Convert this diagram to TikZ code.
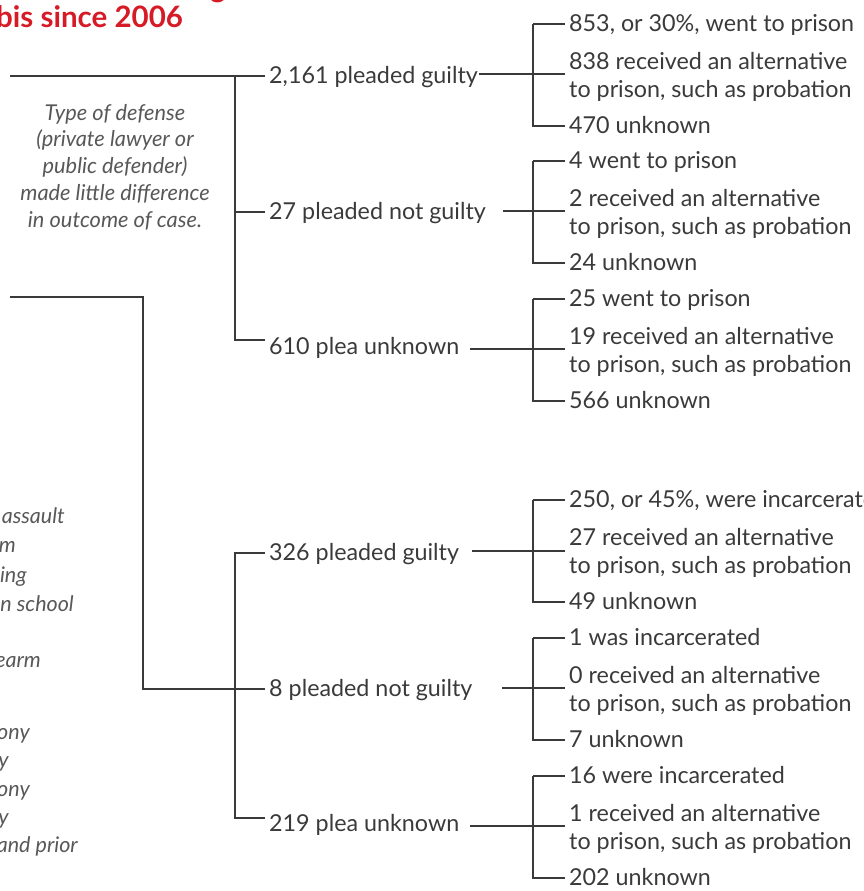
\documentclass[tikz,border=0pt]{standalone}
\usepackage{fontspec}
\setmainfont{Lato}
\definecolor{chtred}{RGB}{214,26,38}
\definecolor{chtink}{RGB}{58,58,58}
\definecolor{chtgray}{RGB}{88,88,88}
\usetikzlibrary{positioning,calc}

\begin{document}
\begin{tikzpicture}[x=1pt, y=-1pt,
  lbl/.style={
    anchor=west, inner xsep=4pt, inner ysep=0pt,
    text height=17pt, text depth=2pt,
    font=\fontsize{23.3}{27}\selectfont,
    text=chtink
  },
  note/.style={font=\fontsize{21.8}{26.8}\selectfont\itshape, text=chtgray, align=center, inner sep=0pt},
  frag/.style={anchor=east, inner sep=0pt, text height=15pt, text depth=2pt,
    font=\fontsize{21.5}{24}\selectfont\itshape, text=chtgray},
  wire/.style={draw=chtink, line width=1.3pt}
]
\useasboundingbox (0,0) rectangle (863,891);
\clip (0,0) rectangle (863,891);

% title, cut by the frame
\node[anchor=base west, inner sep=0pt, font=\fontsize{29.5}{33}\selectfont\bfseries, text=chtred] (ttl) at (-4,28) {bis since 2006};
\node[anchor=base west, inner sep=0pt, font=\fontsize{29.5}{33}\selectfont\bfseries, text=chtred] (ttlg) at (210,-2) {g};

% pleas
\node[lbl] (pg1) at (265,76)  {2,161 pleaded guilty};
\node[lbl] (pn1) at (265,212) {27 pleaded not guilty};
\node[lbl] (pu1) at (265,347) {610 plea unknown};
\node[lbl] (pg2) at (265,553) {326 pleaded guilty};
\node[lbl] (pn2) at (265,689) {8 pleaded not guilty};
\node[lbl] (pu2) at (265,824) {219 plea unknown};

% outcomes
\node[lbl] (o11) at (565,24)  {853, or 30\%, went to prison};
\node[lbl] (o12) at (565,62)  {838 received an alternative};
\node[lbl] (o12b) at (565,90) {to prison, such as probation};
\node[lbl] (o13) at (565,126) {470 unknown};

\node[lbl] (o21) at (565,161) {4 went to prison};
\node[lbl] (o22) at (565,199) {2 received an alternative};
\node[lbl] (o22b) at (565,227) {to prison, such as probation};
\node[lbl] (o23) at (565,263) {24 unknown};

\node[lbl] (o31) at (565,299) {25 went to prison};
\node[lbl] (o32) at (565,337) {19 received an alternative};
\node[lbl] (o32b) at (565,365) {to prison, such as probation};
\node[lbl] (o33) at (565,401) {566 unknown};

\node[lbl] (o41) at (565,500) {250, or 45\%, were incarcerated};
\node[lbl] (o42) at (565,538) {27 received an alternative};
\node[lbl] (o42b) at (565,566) {to prison, such as probation};
\node[lbl] (o43) at (565,602) {49 unknown};

\node[lbl] (o51) at (565,638) {1 was incarcerated};
\node[lbl] (o52) at (565,676) {0 received an alternative};
\node[lbl] (o52b) at (565,704) {to prison, such as probation};
\node[lbl] (o53) at (565,740) {7 unknown};

\node[lbl] (o61) at (565,776) {16 were incarcerated};
\node[lbl] (o62) at (565,814) {1 received an alternative};
\node[lbl] (o62b) at (565,842) {to prison, such as probation};
\node[lbl] (o63) at (565,878) {202 unknown};

% notes on the left
\node[note] (defnote) at (115,167)
  {Type of defense\\(private lawyer or\\public defender)\\made little difference\\in outcome of case.};
\node[frag] (f1) at (65,517)  {assault};
\node[frag] (f2) at (16,546)  {m};
\node[frag] (f3) at (27,576)  {ing};
\node[frag] (f4) at (74,605)  {n school};
\node[frag] (f5) at (41,661)  {earm};
\node[frag] (f6) at (30,733)  {ony};
\node[frag] (f7) at (9,761)   {y};
\node[frag] (f8) at (30,790)  {ony};
\node[frag] (f9) at (9,818)   {y};
\node[frag] (f10) at (78,846) {and prior};

% feeds and brackets, left
\coordinate (in1) at (10,76);
\coordinate (in2) at (10,297);
\coordinate (drop) at (143,689);
\coordinate (k1m) at (235,212);
\coordinate (k1b) at (235,340);
\coordinate (k2t) at (235,553);
\coordinate (k2b) at (235,818);

\draw[wire] (in1) -- (in1 -| pg1.west);
\draw[wire] (in1 -| k1b) -- (k1b) -- (k1b -| pu1.west);
\draw[wire] (k1m) -- (k1m -| pn1.west);
\draw[wire] (in2) -| (drop) -- (drop -| pn2.west);
\draw[wire] (k2t -| pg2.west) -- (k2t) -- (k2b) -- (k2b -| pu2.west);

% brackets, right
\path (pg1.east) ++(-3,-2) coordinate (j1);
\coordinate (j2) at (503,211);
\coordinate (j3) at (470,349);
\coordinate (j4) at (472,551);
\coordinate (j5) at (502,688);
\coordinate (j6) at (470,826);

\draw[wire] (o11.west) ++(-32,0) coordinate (t1) -- (o11.west);
\draw[wire] (t1) |- (o13.west);
\draw[wire] (j1) -- (j1 -| o12.west);

\draw[wire] (o21.west) ++(-32,0) coordinate (t2) -- (o21.west);
\draw[wire] (t2) |- (o23.west);
\draw[wire] (j2) -- (j2 -| o22.west);

\draw[wire] (o31.west) ++(-32,0) coordinate (t3) -- (o31.west);
\draw[wire] (t3) |- (o33.west);
\draw[wire] (j3) -- (j3 -| o32.west);

\draw[wire] (o41.west) ++(-32,0) coordinate (t4) -- (o41.west);
\draw[wire] (t4) |- (o43.west);
\draw[wire] (j4) -- (j4 -| o42.west);

\draw[wire] (o51.west) ++(-32,0) coordinate (t5) -- (o51.west);
\draw[wire] (t5) |- (o53.west);
\draw[wire] (j5) -- (j5 -| o52.west);

\draw[wire] (o61.west) ++(-32,0) coordinate (t6) -- (o61.west);
\draw[wire] (t6) |- (o63.west);
\draw[wire] (j6) -- (j6 -| o62.west);
\end{tikzpicture}
\end{document}
